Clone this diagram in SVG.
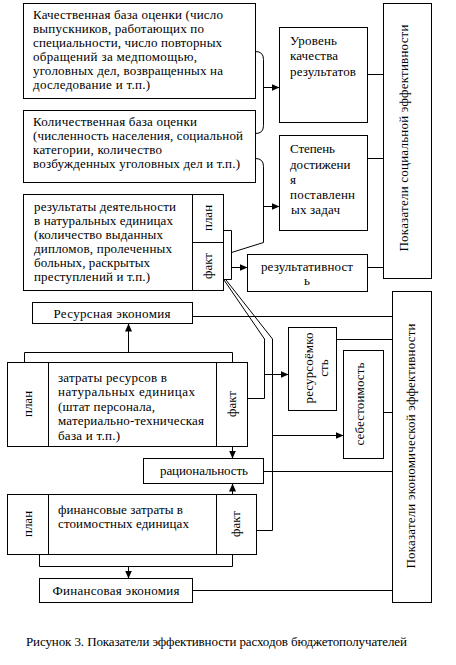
<svg xmlns="http://www.w3.org/2000/svg" width="456" height="665" viewBox="0 0 456 665">
<style>
.b{fill:#fff;stroke:#000;stroke-width:1}
.l{fill:none;stroke:#000;stroke-width:1}
.t{font-family:"Liberation Serif","Times New Roman",serif;font-size:13px;fill:#000}
.c{text-anchor:middle}
</style>
<defs>
<marker id="ah" markerUnits="userSpaceOnUse" markerWidth="9" markerHeight="8" refX="8" refY="3.5" orient="auto">
<path d="M0,0 L8,3.5 L0,7 Z" fill="#000"/>
</marker>
</defs>
<rect width="456" height="665" fill="#fff"/>

<g id="n-kach">
<rect class="b" x="23.5" y="3.5" width="232" height="95"/>
<text class="t" x="33" y="19" textLength="190" lengthAdjust="spacing">Качественная база оценки (число</text>
<text class="t" x="33" y="33" textLength="171" lengthAdjust="spacing">выпускников, работающих по</text>
<text class="t" x="33" y="47" textLength="189" lengthAdjust="spacing">специальности, число повторных</text>
<text class="t" x="33" y="61" textLength="164" lengthAdjust="spacing">обращений за медпомощью,</text>
<text class="t" x="33" y="75" textLength="190" lengthAdjust="spacing">уголовных дел, возвращенных на</text>
<text class="t" x="33" y="89" textLength="117" lengthAdjust="spacing">доследование и т.п.)</text>
</g>

<g id="n-kol">
<rect class="b" x="23.5" y="110.5" width="232" height="72"/>
<text class="t" x="33" y="126" textLength="164" lengthAdjust="spacing">Количественная база оценки</text>
<text class="t" x="33" y="140" textLength="210" lengthAdjust="spacing">(численность населения, социальной</text>
<text class="t" x="33" y="154" textLength="129" lengthAdjust="spacing">категории, количество</text>
<text class="t" x="33" y="168" textLength="207" lengthAdjust="spacing">возбужденных уголовных дел и т.п.)</text>
</g>

<g id="n-result">
<rect class="b" x="23.5" y="194.5" width="200" height="96"/>
<path class="l" d="M192.5,194.5 V290.5 M192.5,242.5 H223.5"/>
<text class="t" x="34" y="211" textLength="142" lengthAdjust="spacing">результаты деятельности</text>
<text class="t" x="34" y="225" textLength="139" lengthAdjust="spacing">в натуральных единицах</text>
<text class="t" x="34" y="239" textLength="129" lengthAdjust="spacing">(количество выданных</text>
<text class="t" x="34" y="253" textLength="138" lengthAdjust="spacing">дипломов, пролеченных</text>
<text class="t" x="34" y="267" textLength="116" lengthAdjust="spacing">больных, раскрытых</text>
<text class="t" x="34" y="281" textLength="116" lengthAdjust="spacing">преступлений и т.п.)</text>
<text class="t c" transform="translate(208,218) rotate(-90)" x="0" y="4">план</text>
<text class="t c" transform="translate(208,266) rotate(-90)" x="0" y="4">факт</text>
</g>

<g id="n-uroven">
<rect class="b" x="279.5" y="27.5" width="88" height="95"/>
<text class="t" x="290" y="45" textLength="47" lengthAdjust="spacing">Уровень</text>
<text class="t" x="290" y="60" textLength="48" lengthAdjust="spacing">качества</text>
<text class="t" x="290" y="76" textLength="66" lengthAdjust="spacing">результатов</text>
</g>

<g id="n-stepen">
<rect class="b" x="279.5" y="135.5" width="88" height="95"/>
<text class="t" x="290" y="153" textLength="45" lengthAdjust="spacing">Степень</text>
<text class="t" x="290" y="169">достижени</text>
<text class="t" x="290" y="184">я</text>
<text class="t" x="290" y="199" textLength="65" lengthAdjust="spacing">поставленн</text>
<text class="t" x="291" y="214" textLength="49" lengthAdjust="spacing">ых задач</text>
</g>

<g id="n-resultativ">
<rect class="b" x="247.5" y="254.5" width="120" height="37"/>
<text class="t" x="261" y="271" textLength="92" lengthAdjust="spacing">результативност</text>
<text class="t c" x="307" y="285">ь</text>
</g>

<g id="n-social">
<rect class="b" x="383.5" y="3.5" width="48" height="275"/>
<text class="t c" transform="translate(408,138) rotate(-90)" x="0" y="0" textLength="227" lengthAdjust="spacing">Показатели социальной эффективности</text>
</g>

<g id="n-resursEk">
<rect class="b" x="32.5" y="302.5" width="160" height="21"/>
<text class="t c" x="112" y="318" textLength="117" lengthAdjust="spacing">Ресурсная экономия</text>
</g>

<g id="n-zatraty">
<rect class="b" x="7.5" y="362.5" width="240" height="84"/>
<path class="l" d="M48.5,362.5 V446.5 M216.5,362.5 V446.5"/>
<text class="t" x="58" y="382" textLength="109" lengthAdjust="spacing">затраты ресурсов в</text>
<text class="t" x="58" y="396" textLength="137" lengthAdjust="spacing">натуральных единицах</text>
<text class="t" x="58" y="411" textLength="97" lengthAdjust="spacing">(штат персонала,</text>
<text class="t" x="58" y="425" textLength="146" lengthAdjust="spacing">материально-техническая</text>
<text class="t" x="58" y="440" textLength="62" lengthAdjust="spacing">база и т.п.)</text>
<text class="t c" transform="translate(28,404) rotate(-90)" x="0" y="4">план</text>
<text class="t c" transform="translate(232,404) rotate(-90)" x="0" y="4">факт</text>
</g>

<g id="n-resursoem">
<rect class="b" x="288.5" y="327.5" width="48" height="83"/>
<text class="t c" transform="translate(313,368) rotate(-90)" x="0" y="0" textLength="71" lengthAdjust="spacing">ресурсоёмко</text>
<text class="t c" transform="translate(328,368) rotate(-90)" x="0" y="0">сть</text>
</g>

<g id="n-sebest">
<rect class="b" x="343.5" y="350.5" width="40" height="108"/>
<text class="t c" transform="translate(364,404) rotate(-90)" x="0" y="0" textLength="83" lengthAdjust="spacing">себестоимость</text>
</g>

<g id="n-racion">
<rect class="b" x="143.5" y="458.5" width="120" height="25"/>
<text class="t c" x="204" y="475" textLength="88" lengthAdjust="spacing">рациональность</text>
</g>

<g id="n-fin">
<rect class="b" x="7.5" y="494.5" width="249" height="60"/>
<path class="l" d="M48.5,494.5 V554.5 M216.5,494.5 V554.5"/>
<text class="t" x="58" y="514" textLength="125" lengthAdjust="spacing">финансовые затраты в</text>
<text class="t" x="58" y="528" textLength="131" lengthAdjust="spacing">стоимостных единицах</text>
<text class="t c" transform="translate(28,524) rotate(-90)" x="0" y="4">план</text>
<text class="t c" transform="translate(236,524) rotate(-90)" x="0" y="4">факт</text>
</g>

<g id="n-finEk">
<rect class="b" x="39.5" y="578.5" width="153" height="24"/>
<text class="t c" x="116" y="595" textLength="127" lengthAdjust="spacing">Финансовая экономия</text>
</g>

<g id="n-econ">
<rect class="b" x="392.5" y="291.5" width="39" height="311"/>
<text class="t c" transform="translate(415,446) rotate(-90)" x="0" y="0" textLength="245" lengthAdjust="spacing">Показатели экономической эффективности</text>
</g>

<g id="connectors">
<path class="l" d="M255.5,51.5 Q263.5,51.5 263.5,59.5 V125.5 Q263.5,133.5 255.5,133.5"/>
<path class="l" marker-end="url(#ah)" d="M263.5,87.5 H279.5"/>
<path class="l" d="M255.5,158.5 Q263.5,158.5 263.5,166.5 V242.5 L231.5,252.5"/>
<path class="l" marker-end="url(#ah)" d="M263.5,206.5 H279.5"/>
<path class="l" d="M223.5,230.5 H231.5 V279.5 H223.5"/>
<path class="l" marker-end="url(#ah)" d="M231.5,267.5 H247.5"/>
<path class="l" d="M224,280 L264.5,339 V398.5 H247.5"/>
<path class="l" d="M226,280 L272.5,339 V530.5 H256.5"/>
<path class="l" marker-end="url(#ah)" d="M264.5,374.5 H288.5"/>
<path class="l" marker-end="url(#ah)" d="M272.5,435.5 H343.5"/>
<path class="l" d="M367.5,74.5 H383.5 M367.5,158.5 H383.5 M367.5,267.5 H383.5"/>
<path class="l" d="M192.5,316.5 H392.5 M336.5,339.5 H392.5 M383.5,412.5 H392.5 M263.5,471.5 H392.5 M192.5,590.5 H392.5"/>
<path class="l" d="M24.5,362.5 V352.5 H232.5 V362.5"/>
<path class="l" marker-end="url(#ah)" d="M128.5,352.5 V323.5"/>
<path class="l" marker-end="url(#ah)" d="M232.5,446.5 V458.5"/>
<path class="l" marker-end="url(#ah)" d="M232.5,494.5 V483.5"/>
<path class="l" d="M39.5,554.5 V566.5 H232.5 V554.5"/>
<path class="l" marker-end="url(#ah)" d="M128.5,566.5 V578.5"/>
</g>

<g id="caption">
<text class="t" x="26" y="646" textLength="381" lengthAdjust="spacing">Рисунок 3. Показатели эффективности расходов бюджетополучателей</text>
</g>
</svg>
